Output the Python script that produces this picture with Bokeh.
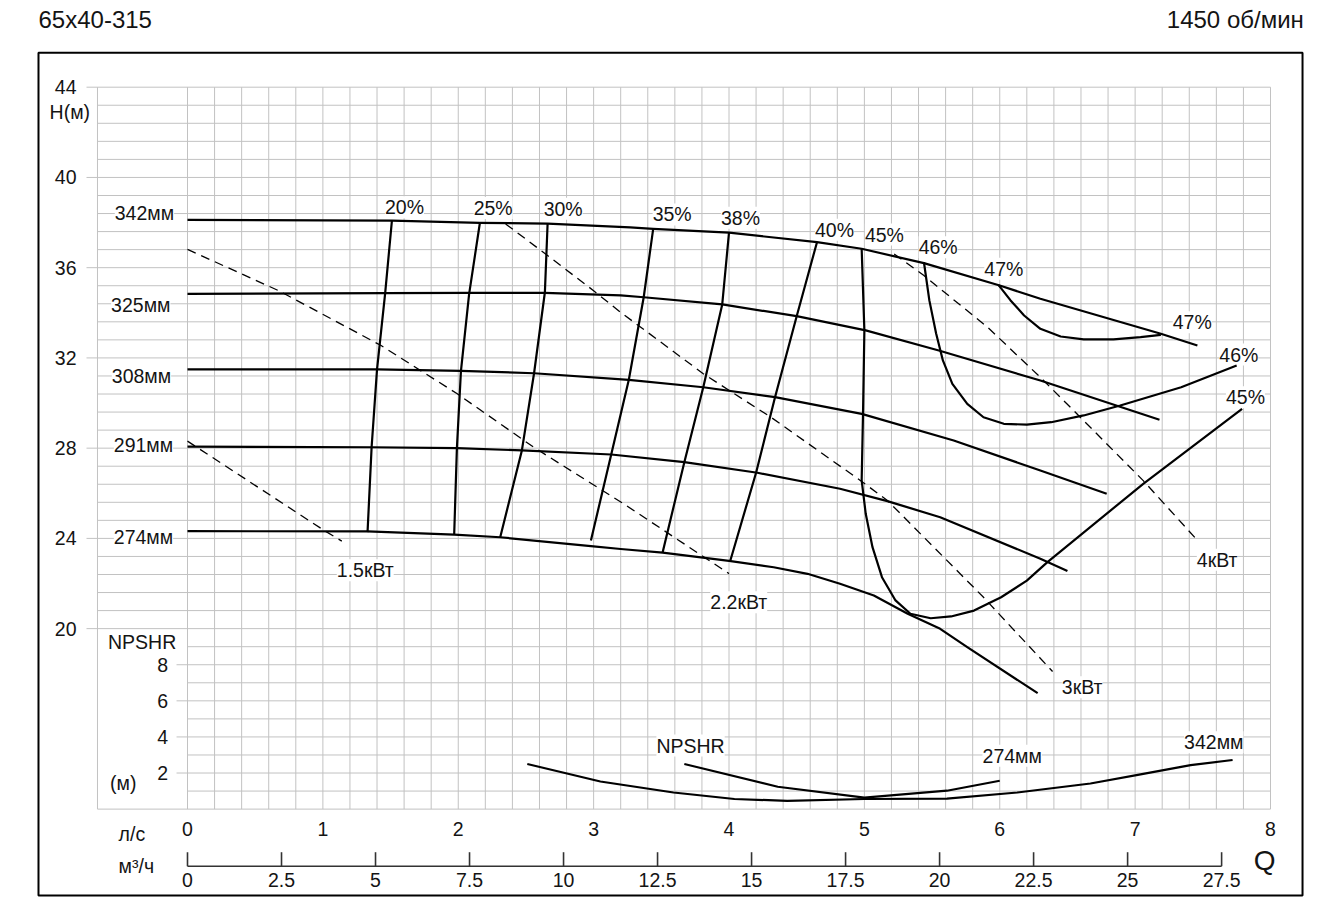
import numpy as np
from bokeh.plotting import figure
from bokeh.models import Range1d
from bokeh.embed import file_html
from bokeh.resources import INLINE
from bokeh.core.properties import value

# ------------------------------------------------------------------ data
TITLE_LEFT = "65x40-315"
TITLE_RIGHT = "1450 об/мин"

H_TICKS = [20, 24, 28, 32, 36, 40, 44]
NPSH_TICKS = [2, 4, 6, 8]
Q_LS_TICKS = [0, 1, 2, 3, 4, 5, 6, 7, 8]
Q_M3H_TICKS = [0, 2.5, 5, 7.5, 10, 12.5, 15, 17.5, 20, 22.5, 25, 27.5]

DIAMETER_LABELS = ["342мм", "325мм", "308мм", "291мм", "274мм"]

# head curves H(Q), Q in l/s, H in m
q_342 = [0.0, 1.51, 2.16, 2.66, 3.27, 3.44, 4.00, 4.65, 4.98, 5.44, 6.00, 6.30, 7.19, 7.46]
h_342 = [38.12, 38.09, 37.99, 37.95, 37.79, 37.72, 37.55, 37.13, 36.84, 36.20, 35.21, 34.62, 33.07, 32.55]
q_325 = [0.0, 1.46, 2.08, 2.64, 3.20, 3.37, 3.95, 4.50, 5.01, 5.55, 6.30, 7.18]
h_325 = [34.84, 34.87, 34.88, 34.88, 34.77, 34.69, 34.37, 33.85, 33.22, 32.33, 31.00, 29.26]
q_308 = [0.0, 1.40, 2.02, 2.56, 3.26, 3.81, 4.34, 4.98, 5.66, 6.30, 6.79]
h_308 = [31.49, 31.49, 31.43, 31.32, 31.03, 30.70, 30.26, 29.52, 28.34, 27.01, 25.98]
q_291 = [0.0, 1.36, 1.99, 2.47, 3.13, 3.67, 4.21, 4.82, 5.17, 5.56, 6.30, 6.50]
h_291 = [28.07, 28.04, 28.00, 27.90, 27.72, 27.38, 26.91, 26.20, 25.65, 24.94, 23.10, 22.55]
q_274 = [0.0, 1.33, 1.97, 2.31, 2.98, 3.20, 3.51, 4.00, 4.33, 4.58, 4.82, 5.07, 5.32, 5.56, 5.76, 6.28]
h_274 = [24.32, 24.31, 24.17, 24.05, 23.66, 23.53, 23.37, 23.00, 22.72, 22.43, 21.99, 21.47, 20.66, 19.99, 19.18, 17.14]

# efficiency iso-lines
EFF_LABELS = ["20%", "25%", "30%", "35%", "38%", "40%", "45%", "46%", "47%", "47%", "46%", "45%"]
q_e20 = [1.51, 1.46, 1.40, 1.36, 1.33]
h_e20 = [38.09, 34.86, 31.49, 28.04, 24.28]
q_e25 = [2.16, 2.08, 2.02, 1.99, 1.97]
h_e25 = [37.99, 34.82, 31.43, 28.00, 24.17]
q_e30 = [2.66, 2.64, 2.56, 2.47, 2.31]
h_e30 = [37.95, 34.91, 31.32, 27.90, 24.05]
q_e35 = [3.44, 3.37, 3.26, 3.13, 2.98]
h_e35 = [37.72, 34.69, 31.03, 27.72, 23.91]
q_e38 = [4.00, 3.95, 3.81, 3.67, 3.51]
h_e38 = [37.55, 34.37, 30.70, 27.38, 23.39]
q_e40 = [4.65, 4.50, 4.34, 4.20, 4.01]
h_e40 = [37.13, 33.85, 30.26, 26.91, 23.02]
q_e45 = [4.98, 5.00, 4.99, 4.98, 5.01, 5.06, 5.13, 5.23, 5.34, 5.49, 5.64, 5.81, 6.01, 6.20,
         6.35, 7.06, 7.79]
h_e45 = [36.84, 33.21, 29.54, 26.57, 25.09, 23.61, 22.28, 21.25, 20.66, 20.46, 20.54, 20.80, 21.39, 22.13,
         22.94, 26.42, 29.74]
q_e46 = [5.44, 5.48, 5.53, 5.58, 5.65, 5.76, 5.88, 6.03, 6.20, 6.38, 6.62, 6.89, 7.34, 7.75]
h_e46 = [36.24, 34.55, 33.08, 31.89, 30.85, 29.96, 29.37, 29.08, 29.04, 29.15, 29.45, 29.89, 30.70, 31.66]
q_e47 = [5.99, 6.08, 6.18, 6.30, 6.45, 6.62, 6.84, 7.04, 7.19]
h_e47 = [35.24, 34.55, 33.88, 33.29, 32.95, 32.82, 32.82, 32.92, 33.02]

# power iso-lines
POWER_LABELS = ["1.5кВт", "2.2кВт", "3кВт", "4кВт"]
q_p15 = [0.0, 1.01, 1.14]
h_p15 = [28.31, 24.35, 23.88]
q_p22 = [0.0, 0.67, 1.43, 1.99, 2.56, 3.22, 4.00]
h_p22 = [36.81, 34.99, 32.55, 30.42, 28.03, 25.54, 22.44]
q_p3 = [2.35, 2.66, 3.00, 3.20, 3.81, 4.31, 4.97, 5.17, 5.88, 6.39]
h_p3 = [37.94, 36.54, 34.98, 34.02, 31.30, 29.37, 26.57, 25.68, 21.39, 18.10]
q_p4 = [5.22, 5.44, 5.91, 6.30, 6.62, 7.06, 7.45]
h_p4 = [36.61, 35.65, 33.36, 31.14, 29.22, 26.56, 23.98]

# NPSHR curves (m)
NPSH_LABELS = ["NPSHR", "274мм", "342мм"]
q_n342 = [2.51, 3.05, 3.59, 4.04, 4.43, 5.00, 5.61, 6.13, 6.67, 7.02, 7.41, 7.72]
n_n342 = [2.50, 1.53, 0.92, 0.56, 0.46, 0.56, 0.58, 0.92, 1.42, 1.90, 2.44, 2.72]
q_n274 = [3.67, 4.36, 5.00, 5.61, 6.00]
n_n274 = [2.50, 1.24, 0.64, 1.02, 1.57]

# ------------------------------------------------------------------ layout / style
W, HGT = 1324, 904
SX = 135.375          # px per l/s
SY = 22.56            # px per m head
Q0_PX = 187.0         # canvas x of Q = 0
H44_PY = 86.7         # canvas y of H = 44
NPSH_BASE = 12.0      # head value where NPSHR = 0
NPSH_STEP = 0.8       # head metres per NPSHR metre
M3H_PER_LS = 3.6

x_lo, x_hi = -Q0_PX / SX, (W - Q0_PX) / SX
y_hi, y_lo = 44 + H44_PY / SY, 44 - (HGT - H44_PY) / SY

FONT = value("Liberation Sans")
TXT = "#141414"
GRID = "#c2c2c2"
LW = 2.2
FS = "19.5px"

GRID_LEFT = -0.665
TICK_LEFT = -0.746
FRAME = dict(left=-1.1007, right=8.2366, top=45.525, bottom=8.171)

p = figure(width=W, height=HGT, x_range=Range1d(x_lo, x_hi), y_range=Range1d(y_lo, y_hi),
           x_axis_type=None, y_axis_type=None, toolbar_location=None,
           output_backend="svg", min_border=0, outline_line_color=None)
p.extra_y_ranges = {"npsh": Range1d((y_lo - NPSH_BASE) / NPSH_STEP, (y_hi - NPSH_BASE) / NPSH_STEP)}
p.extra_x_ranges = {"m3h": Range1d(x_lo * M3H_PER_LS, x_hi * M3H_PER_LS)}

# ---- grid
q_minor = np.round(np.arange(Q_LS_TICKS[0], Q_LS_TICKS[-1] + 1e-9, 0.2), 3)
p.segment(x0=q_minor, y0=NPSH_BASE, x1=q_minor, y1=H_TICKS[-1], line_color=GRID, line_width=1)
p.segment(x0=[GRID_LEFT], y0=[NPSH_BASE], x1=[GRID_LEFT], y1=[H_TICKS[-1]], line_color=GRID, line_width=1)
h_minor = np.linspace(H_TICKS[0], H_TICKS[-1], 31)
p.segment(x0=GRID_LEFT, y0=h_minor, x1=Q_LS_TICKS[-1], y1=h_minor, line_color=GRID, line_width=1)
p.segment(x0=TICK_LEFT, y0=H_TICKS, x1=GRID_LEFT, y1=H_TICKS, line_color=GRID, line_width=1)
n_minor = list(range(1, 10))
p.segment(x0=0, y0=n_minor, x1=Q_LS_TICKS[-1], y1=n_minor, line_color=GRID, line_width=1, y_range_name="npsh")
p.segment(x0=[GRID_LEFT], y0=[0], x1=[Q_LS_TICKS[-1]], y1=[0], line_color=GRID, line_width=1, y_range_name="npsh")
p.segment(x0=-0.081, y0=NPSH_TICKS, x1=0, y1=NPSH_TICKS, line_color=GRID, line_width=1, y_range_name="npsh")

# ---- outer frame
p.quad(left=[FRAME["left"]], right=[FRAME["right"]], top=[FRAME["top"]], bottom=[FRAME["bottom"]],
       fill_color=None, line_color="black", line_width=2)


def txt(xs, ys, texts, align="center", size=FS, bg=False, **kw):
    extra = dict(background_fill_color="white") if bg else {}
    p.text(x=xs, y=ys, text=texts, text_font=FONT, text_font_size=size, text_color=TXT,
           text_align=align, text_baseline="middle", **extra, **kw)


# ---- labels (drawn before curves so curves stay on top)
txt([-0.318, -0.345, -0.340, -0.325, -0.325], [38.44, 34.36, 31.18, 28.12, 24.08], DIAMETER_LABELS, bg=True)
txt([1.603, 2.258, 2.775, 3.580, 4.085, 4.779, 5.148, 5.545, 6.030, 7.422, 7.766, 7.815],
    [38.68, 38.65, 38.61, 38.36, 38.21, 37.68, 37.47, 36.91, 35.95, 33.58, 32.15, 30.26], EFF_LABELS, bg=True)
txt([1.313, 4.072, 6.609, 7.606], [22.59, 21.17, 17.40, 23.05], POWER_LABELS, bg=True)
txt([3.716, 6.092, 7.581], [3.52, 2.96, 3.70], NPSH_LABELS, bg=True, y_range_name="npsh")

# axis texts
txt([-0.820] * len(H_TICKS), H_TICKS, [str(v) for v in H_TICKS], align="right")
txt([-0.869], [42.89], ["H(м)"])
txt([-0.335], [9.26], ["NPSHR"], bg=True, y_range_name="npsh")
txt([-0.1426] * len(NPSH_TICKS), NPSH_TICKS, [str(v) for v in NPSH_TICKS], align="right", y_range_name="npsh")
txt([-0.475], [1.44], ["(м)"], y_range_name="npsh")
txt(Q_LS_TICKS, [11.10] * len(Q_LS_TICKS), [str(v) for v in Q_LS_TICKS])
txt([-0.411], [10.90], ["л/с"])
txt([-0.378], [9.47], ["м³/ч"])
txt([7.957], [9.71], ["Q"], size="28px")
txt([FRAME["left"]], [47.02], [TITLE_LEFT], align="left", size="24px")
txt([8.246], [47.02], [TITLE_RIGHT], align="right", size="24px")

# m3/h axis
AX_Y, AX_TICK = 9.47, 10.09
p.segment(x0=[Q_M3H_TICKS[0]], y0=[AX_Y], x1=[Q_M3H_TICKS[-1]], y1=[AX_Y], line_color="#333333",
          line_width=1.6, x_range_name="m3h")
p.segment(x0=Q_M3H_TICKS, y0=AX_Y, x1=Q_M3H_TICKS, y1=AX_TICK, line_color="#333333",
          line_width=1.6, x_range_name="m3h")
txt(Q_M3H_TICKS, [8.84] * len(Q_M3H_TICKS), [f"{v:g}" for v in Q_M3H_TICKS], x_range_name="m3h")

# ---- curves
for q, h in [(q_342, h_342), (q_325, h_325), (q_308, h_308), (q_291, h_291), (q_274, h_274),
             (q_e20, h_e20), (q_e25, h_e25), (q_e30, h_e30), (q_e35, h_e35), (q_e38, h_e38),
             (q_e40, h_e40), (q_e45, h_e45), (q_e46, h_e46), (q_e47, h_e47)]:
    p.line(q, h, line_color="black", line_width=LW, line_join="round")

for q, h in [(q_p15, h_p15), (q_p22, h_p22), (q_p3, h_p3), (q_p4, h_p4)]:
    p.line(q, h, line_color="black", line_width=1.3, line_dash="9 6")

for q, n in [(q_n342, n_n342), (q_n274, n_n274)]:
    p.line(q, n, line_color="black", line_width=LW, line_join="round", y_range_name="npsh")

open("out.html", "w").write(file_html(p, INLINE))
